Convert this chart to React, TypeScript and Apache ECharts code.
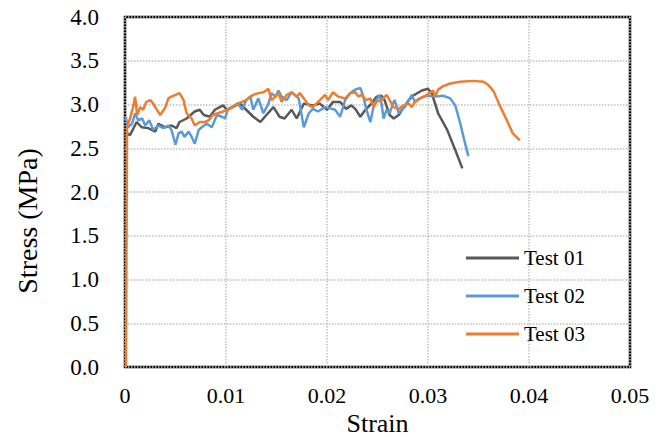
import React, { useEffect, useRef } from "react";
import * as echarts from "echarts";

const seriesNames = ["Test 01", "Test 02", "Test 03"];
const seriesColors = ["#595959", "#5B9BD5", "#ED7D31"];

const xTicks = [0, 0.01, 0.02, 0.03, 0.04, 0.05];
const yTicks = [0, 0.5, 1.0, 1.5, 2.0, 2.5, 3.0, 3.5, 4.0];

const test01: number[][] = [
  [0, 2.6], [0.0002, 2.67], [0.0005, 2.65], [0.00115, 2.8], [0.00165, 2.74], [0.0023, 2.73],
  [0.003, 2.69], [0.0033, 2.78], [0.004, 2.74], [0.0046, 2.76], [0.0051, 2.73], [0.0054, 2.8],
  [0.0061, 2.84], [0.0069, 2.92], [0.0074, 2.94], [0.0078, 2.88], [0.0084, 2.86], [0.0089, 2.94],
  [0.0097, 2.99], [0.0101, 2.94], [0.0106, 2.97], [0.0114, 3.01], [0.012, 2.94], [0.0127, 2.86],
  [0.0134, 2.8], [0.014, 2.88], [0.0147, 2.97], [0.0153, 2.86], [0.0158, 2.84], [0.0165, 2.94],
  [0.017, 2.84], [0.0177, 3.01], [0.0186, 2.99], [0.0193, 3.01], [0.02, 2.94], [0.0206, 3.03],
  [0.0213, 3.03], [0.0219, 2.95], [0.0224, 2.99], [0.0228, 2.95], [0.0233, 2.86], [0.0238, 2.94],
  [0.0244, 3.01], [0.0249, 3.09], [0.0254, 3.1], [0.0257, 3.05], [0.0262, 2.88], [0.0266, 2.84],
  [0.0271, 2.88], [0.0276, 2.97], [0.0281, 3.05], [0.0285, 3.1], [0.0294, 3.16], [0.03, 3.18],
  [0.0304, 3.12], [0.031, 2.9], [0.0319, 2.71], [0.0327, 2.48], [0.0334, 2.27],
];

const test02: number[][] = [
  [0, 2.85], [0.0001, 2.84], [0.0003, 2.74], [0.0007, 2.78], [0.001, 2.9], [0.0013, 2.82],
  [0.0017, 2.84], [0.002, 2.76], [0.0024, 2.82], [0.0028, 2.71], [0.0033, 2.76], [0.0038, 2.73],
  [0.0043, 2.76], [0.0046, 2.71], [0.005, 2.54], [0.0053, 2.67], [0.0056, 2.69], [0.0059, 2.63],
  [0.0063, 2.69], [0.0066, 2.63], [0.0069, 2.55], [0.0073, 2.71], [0.0076, 2.74], [0.0081, 2.78],
  [0.0086, 2.74], [0.0091, 2.88], [0.0096, 2.86], [0.0099, 2.84], [0.0102, 2.95], [0.0107, 2.97],
  [0.0112, 3.01], [0.0116, 2.94], [0.012, 3.05], [0.0124, 3.09], [0.0127, 2.94], [0.0132, 3.07],
  [0.0137, 2.9], [0.0142, 3.01], [0.0145, 3.13], [0.0149, 3.09], [0.0152, 3.16], [0.0155, 3.09],
  [0.016, 3.05], [0.0165, 3.14], [0.0172, 3.07], [0.0177, 2.74], [0.0182, 2.9], [0.0186, 2.95],
  [0.0191, 2.92], [0.0198, 2.97], [0.0205, 2.95], [0.0208, 2.94], [0.0213, 2.86], [0.0218, 3.05],
  [0.0223, 3.13], [0.0228, 3.17], [0.0233, 3.19], [0.0236, 3.09], [0.0239, 2.94], [0.0243, 2.8],
  [0.0246, 2.97], [0.0249, 3.05], [0.0252, 3.11], [0.0254, 3.01], [0.0256, 2.84], [0.0259, 2.94],
  [0.0262, 2.9], [0.0266, 3.03], [0.0267, 3.05], [0.0271, 2.9], [0.0274, 2.94], [0.0277, 2.97],
  [0.0281, 3.05], [0.0284, 3.11], [0.0287, 3.03], [0.0292, 3.07], [0.0299, 3.1], [0.0307, 3.09],
  [0.0315, 3.1], [0.0322, 3.07], [0.0327, 2.99], [0.0332, 2.78], [0.0336, 2.59], [0.034, 2.41],
];

const test03: number[][] = [
  [0.0001, 0], [0.0002, 2.74], [0.0005, 2.84], [0.0008, 2.97], [0.001, 3.09], [0.0012, 2.88],
  [0.0015, 2.97], [0.0018, 2.94], [0.0021, 3.03], [0.0025, 3.05], [0.0028, 3.01], [0.0031, 2.95],
  [0.0035, 2.88], [0.004, 2.97], [0.0043, 3.07], [0.0046, 3.09], [0.005, 3.11], [0.0054, 3.13],
  [0.0058, 3.05], [0.0061, 2.9], [0.0066, 2.84], [0.0069, 2.76], [0.0074, 2.8], [0.0079, 2.8],
  [0.0083, 2.82], [0.0087, 2.88], [0.0092, 2.9], [0.0097, 2.92], [0.0104, 2.95], [0.0111, 3.01],
  [0.0116, 3.03], [0.012, 3.05], [0.0124, 3.09], [0.0127, 3.11], [0.0132, 3.13], [0.0137, 3.14],
  [0.0142, 3.18], [0.0145, 3.05], [0.0149, 3.09], [0.0152, 3.13], [0.0155, 3.03], [0.016, 3.11],
  [0.0165, 3.14], [0.017, 3.09], [0.0173, 3.13], [0.0177, 3.07], [0.0182, 2.99], [0.0186, 2.97],
  [0.0193, 3.05], [0.0198, 3.11], [0.0201, 3.05], [0.0206, 3.14], [0.0211, 3.09], [0.0218, 3.07],
  [0.0223, 3.13], [0.0228, 3.14], [0.0231, 3.09], [0.0234, 3.11], [0.0239, 3.05], [0.0243, 3.07],
  [0.0246, 2.97], [0.0249, 3.03], [0.0254, 3.05], [0.0259, 3.11], [0.0262, 3.05], [0.0266, 2.97],
  [0.0271, 2.95], [0.0276, 2.99], [0.0281, 3.01], [0.0284, 2.97], [0.0287, 3.03], [0.0292, 3.07],
  [0.0299, 3.11], [0.0305, 3.16], [0.0307, 3.09], [0.031, 3.17], [0.0315, 3.21], [0.0322, 3.24],
  [0.0332, 3.26], [0.0345, 3.27], [0.0355, 3.26], [0.036, 3.22], [0.0365, 3.15], [0.0371, 2.99],
  [0.0378, 2.82], [0.0384, 2.67], [0.0391, 2.59],
];

const allData = [test01, test02, test03];

const FONT = "Liberation Serif, Times New Roman, serif";

export default function App() {
  const ref = useRef<HTMLDivElement>(null);
  useEffect(() => {
    if (!ref.current) return;
    const chart = echarts.init(ref.current, undefined, { renderer: "svg" });
    chart.setOption({
      animation: false,
      backgroundColor: "#fff",
      textStyle: { fontFamily: FONT },
      grid: {
        left: 125,
        right: 35,
        top: 17,
        bottom: 70,
        outerBoundsMode: "none",
        containLabel: false,
        show: true,
        borderColor: "#000",
        borderWidth: 2.5,
        backgroundColor: "transparent",
      },
      legend: {
        orient: "vertical",
        left: 466,
        top: 247,
        padding: 0,
        itemWidth: 53,
        itemHeight: 3,
        itemGap: 16,
        icon: "rect",
        data: seriesNames,
        textStyle: { fontFamily: FONT, fontSize: 21, color: "#000", lineHeight: 22 },
      },
      xAxis: {
        type: "value",
        min: xTicks[0],
        max: xTicks[xTicks.length - 1],
        interval: 0.01,
        name: "Strain",
        nameLocation: "middle",
        nameGap: 37,
        nameTextStyle: { fontFamily: FONT, fontSize: 26, color: "#000" },
        axisLine: { show: false },
        axisTick: { show: false },
        axisLabel: {
          fontFamily: FONT,
          fontSize: 22,
          color: "#000",
          margin: 17,
          formatter: (v: number) => (v === 0 ? "0" : String(parseFloat(v.toFixed(2)))),
        },
        splitLine: { show: true, lineStyle: { color: "#BFBFBF", type: "dotted", width: 1.5 } },
      },
      yAxis: {
        type: "value",
        min: yTicks[0],
        max: yTicks[yTicks.length - 1],
        interval: 0.5,
        name: "Stress (MPa)",
        nameLocation: "middle",
        nameGap: 84,
        nameTextStyle: { fontFamily: FONT, fontSize: 28, color: "#000", padding: [0, 58, 0, 0] },
        axisLine: { show: false },
        axisTick: { show: false },
        axisLabel: {
          fontFamily: FONT,
          fontSize: 23,
          color: "#000",
          margin: 26,
          formatter: (v: number) => v.toFixed(1),
        },
        splitLine: { show: true, lineStyle: { color: "#BFBFBF", type: "dotted", width: 1.5 } },
      },
      series: seriesNames.map((name, i) => ({
        name,
        type: "line",
        data: allData[i],
        symbol: "none",
        color: seriesColors[i],
        lineStyle: { width: 2.5, color: seriesColors[i] },
        z: 2 + i,
      })),
    });
    return () => chart.dispose();
  }, []);
  return (
    <div
      ref={ref}
      style={{ position: "fixed", left: 0, top: 0, width: 665, height: 437 }}
    />
  );
}
